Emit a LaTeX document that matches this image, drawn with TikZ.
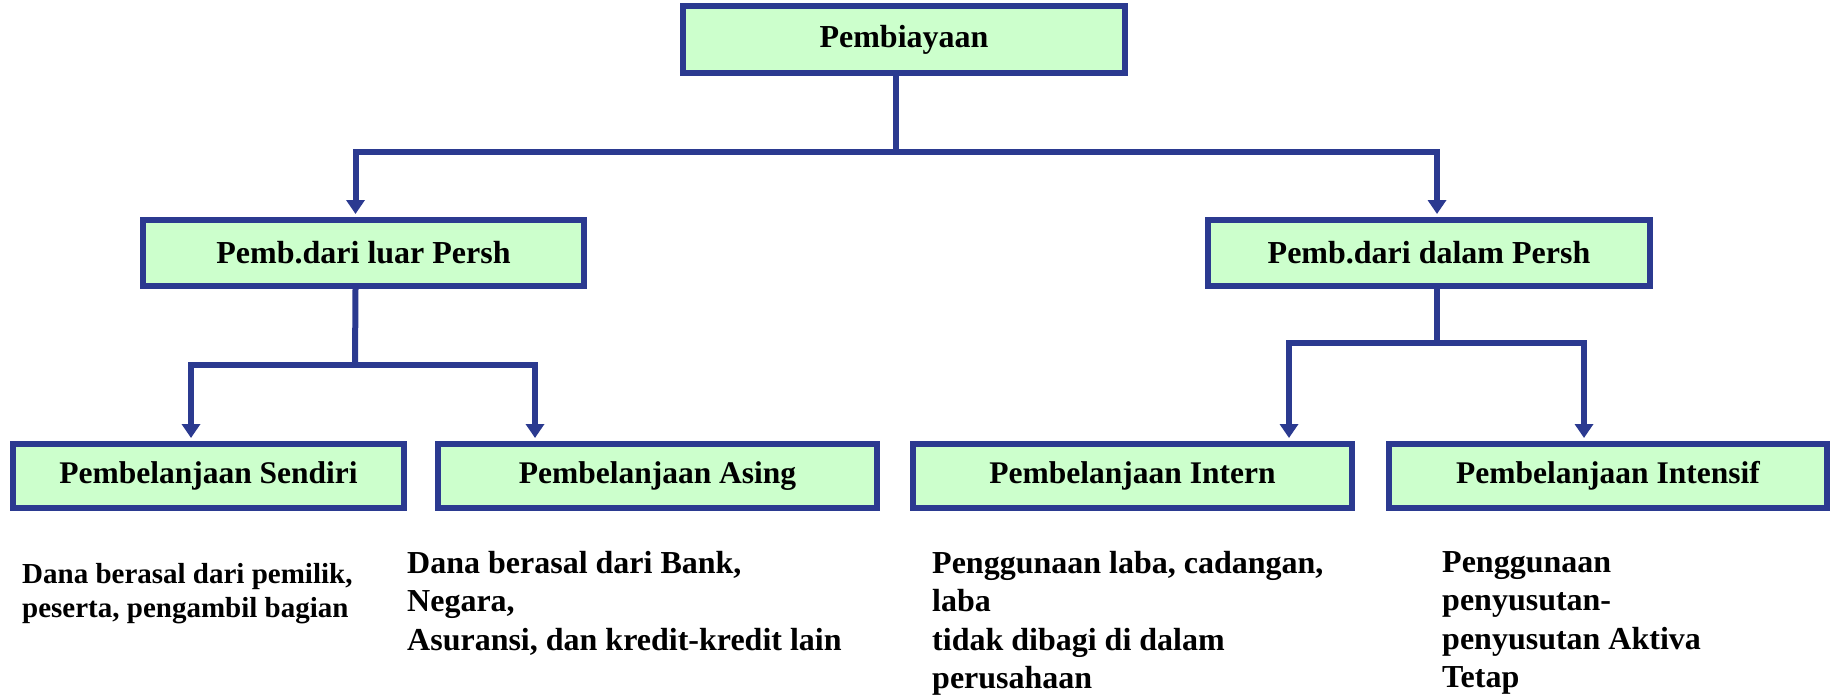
\documentclass[tikz,border=0pt]{standalone}
\usepackage{fontspec}
\setmainfont{Liberation Serif}
\usetikzlibrary{arrows.meta}

\definecolor{boxline}{RGB}{43,58,144}
\definecolor{boxfill}{RGB}{204,255,204}

\tikzset{
    box/.style={rectangle, draw=boxline, fill=boxfill, line width=6pt, inner sep=0pt,
        minimum height=66pt, font=\bfseries\fontsize{32}{38}\selectfont},
    leaf/.style={box, minimum height=64pt, font=\bfseries\fontsize{31.5}{38}\selectfont},
    desc/.style={anchor=north west, inner sep=0pt, align=left},
    link/.style={draw=boxline, line width=6pt}
}

\begin{document}
\begin{tikzpicture}[x=1pt, y=-1pt, >={Triangle[width=18pt,length=14pt]}]
    \useasboundingbox (0,0) rectangle (1835,695);

    \node[box, minimum width=442pt, minimum height=67pt] (biaya) at (904,39.5) {Pembiayaan};
    \node[box, minimum width=441pt] (luar) at (363.5,253) {Pemb.dari luar Persh};
    \node[box, minimum width=442pt] (dalam) at (1429,253) {Pemb.dari dalam Persh};

    \node[leaf, minimum width=391pt] (sendiri) at (208.5,476) {Pembelanjaan Sendiri};
    \node[leaf, minimum width=439pt] (asing) at (657.5,476) {Pembelanjaan Asing};
    \node[leaf, minimum width=439pt] (intern) at (1132.5,476) {Pembelanjaan Intern};
    \node[leaf, minimum width=438pt] (intensif) at (1608,476) {Pembelanjaan Intensif};

    \node[desc, font=\bfseries\fontsize{29}{34}\selectfont] (dsendiri) at (22,563)
        {Dana berasal dari pemilik,\\peserta, pengambil bagian};
    \node[desc, font=\bfseries\fontsize{32}{38.5}\selectfont] (dasing) at (407,551)
        {Dana berasal dari Bank,\\Negara,\\Asuransi, dan kredit-kredit lain};
    \node[desc, font=\bfseries\fontsize{32}{38.5}\selectfont] (dintern) at (932,551)
        {Penggunaan laba, cadangan,\\laba\\tidak dibagi di dalam\\perusahaan};
    \node[desc, font=\bfseries\fontsize{32}{38.5}\selectfont] (dintensif) at (1442,551)
        {Penggunaan\\penyusutan-\\penyusutan Aktiva\\Tetap};

    \coordinate (j1) at (896,152);
    \coordinate (j2) at (355,365);
    \coordinate (j3) at (1437,343);

    \draw[link] ([xshift=-8pt]biaya.south) -- (j1);
    \draw[link,->,shorten >=3pt] (j1) -| ([xshift=-8pt]luar.north);
    \draw[link,->,shorten >=3pt] (j1) -| ([xshift=8pt]dalam.north);

    \draw[link] ([xshift=-8pt]luar.south) -- (j2);
    \draw[link,->,shorten >=3pt] (j2) -| ([xshift=-17.5pt]sendiri.north);
    \draw[link,->,shorten >=3pt] (j2) -| ([xshift=-122.5pt]asing.north);

    \draw[link] ([xshift=8pt]dalam.south) -- (j3);
    \draw[link,->,shorten >=3pt] (j3) -| ([xshift=156.5pt]intern.north);
    \draw[link,->,shorten >=3pt] (j3) -| ([xshift=-24pt]intensif.north);
\end{tikzpicture}
\end{document}
